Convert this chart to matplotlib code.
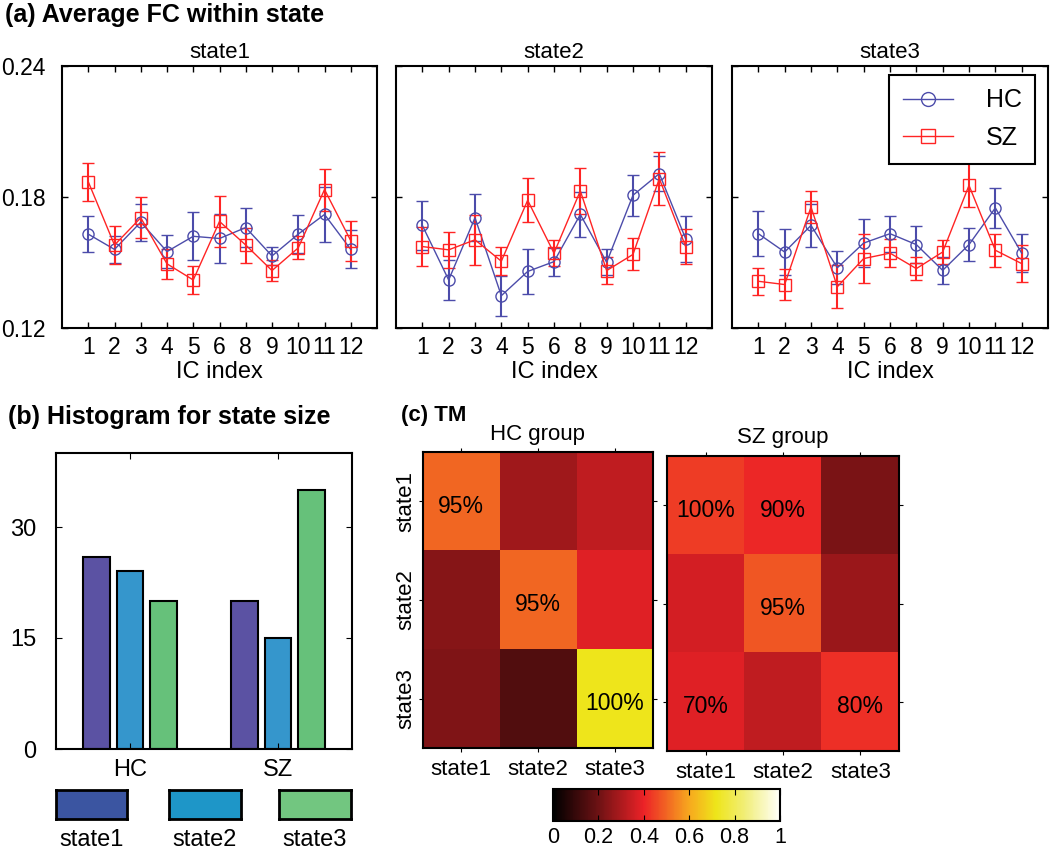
import matplotlib
matplotlib.use('Agg')
import matplotlib.pyplot as plt
import numpy as np
from matplotlib.colors import LinearSegmentedColormap
from matplotlib.lines import Line2D

plt.rcParams['font.family'] = ['Liberation Sans', 'DejaVu Sans']

# ---------------- data ----------------
ic_labels = ['1', '2', '3', '4', '5', '6', '8', '9', '10', '11', '12']
state_names = ['state1', 'state2', 'state3']

hc_state1 = [0.163, 0.156, 0.1685, 0.155, 0.162, 0.161, 0.166, 0.153, 0.163, 0.172, 0.156]
hc_state1_err = [0.0084, 0.006, 0.0085, 0.0077, 0.011, 0.011, 0.009, 0.004, 0.0087, 0.0125, 0.0087]
sz_state1 = [0.187, 0.158, 0.1705, 0.1494, 0.142, 0.1688, 0.158, 0.1463, 0.1567, 0.1834, 0.160]
sz_state1_err = [0.0088, 0.0087, 0.0095, 0.007, 0.0063, 0.0117, 0.008, 0.005, 0.0053, 0.0096, 0.0092]

hc_state2 = [0.167, 0.142, 0.1705, 0.1348, 0.1459, 0.1504, 0.172, 0.1501, 0.1808, 0.1907, 0.1609]
hc_state2_err = [0.0113, 0.009, 0.0107, 0.0092, 0.0101, 0.0064, 0.0105, 0.006, 0.0094, 0.008, 0.0105]
sz_state2 = [0.1573, 0.1558, 0.1604, 0.1506, 0.1785, 0.1543, 0.1828, 0.1463, 0.1537, 0.1884, 0.1573]
sz_state2_err = [0.0088, 0.0083, 0.0115, 0.0065, 0.010, 0.006, 0.0107, 0.006, 0.0073, 0.0122, 0.008]

hc_state3 = [0.1632, 0.1548, 0.167, 0.1476, 0.1589, 0.1632, 0.1582, 0.1464, 0.1582, 0.175, 0.1543]
hc_state3_err = [0.0102, 0.0105, 0.010, 0.0076, 0.0108, 0.0082, 0.0086, 0.0061, 0.0076, 0.0092, 0.0088]
sz_state3 = [0.1414, 0.1399, 0.1754, 0.1389, 0.1518, 0.1543, 0.1472, 0.1548, 0.1853, 0.1556, 0.1495]
sz_state3_err = [0.0063, 0.0073, 0.0075, 0.0098, 0.0112, 0.0065, 0.0053, 0.0057, 0.0101, 0.0075, 0.0085]

groups = ['HC', 'SZ']
count_state1 = [26, 20]
count_state2 = [24, 15]
count_state3 = [20, 35]

tm_hc = [[0.50, 0.28, 0.33],
         [0.24, 0.50, 0.38],
         [0.23, 0.15, 0.72]]
tm_sz = [[0.44, 0.41, 0.22],
         [0.36, 0.48, 0.27],
         [0.38, 0.33, 0.42]]
tm_hc_text = [(0, 0, '95%'), (1, 1, '95%'), (2, 2, '100%')]
tm_sz_text = [(0, 0, '100%'), (0, 1, '90%'), (1, 1, '95%'), (2, 0, '70%'), (2, 2, '80%')]
cbar_ticks = [0, 0.2, 0.4, 0.6, 0.8, 1]
cbar_ticklabels = ['0', '0.2', '0.4', '0.6', '0.8', '1']

# ---------------- layout helpers ----------------
W, H = 1050, 851
def rect(l, t, r, b):
    return [l / W, 1 - b / H, (r - l) / W, (b - t) / H]

fig = plt.figure(figsize=(10.5, 8.51), dpi=100)

blue = '#4c4caa'
red = '#ff2424'

# ---------------- panel (a) ----------------
fig.text(5 / W, 1 - 15 / H, '(a) Average FC within state', fontsize=18,
         fontweight='bold', va='center', ha='left')

a_rects = [(62, 66, 377, 328), (396, 66, 712, 328), (732, 66, 1048, 328)]
a_data = [(hc_state1, hc_state1_err, sz_state1, sz_state1_err),
          (hc_state2, hc_state2_err, sz_state2, sz_state2_err),
          (hc_state3, hc_state3_err, sz_state3, sz_state3_err)]
x = np.arange(1, len(ic_labels) + 1)
for i, (r, (hm, he, sm, se)) in enumerate(zip(a_rects, a_data)):
    ax = fig.add_axes(rect(*r))
    ax.errorbar(x, hm, yerr=he, color=blue, marker='o', mfc='none', ms=8,
                lw=1, elinewidth=1.5, capsize=4, mew=1)
    ax.errorbar(x, sm, yerr=se, color=red, marker='s', mfc='none', ms=8,
                lw=1, elinewidth=1.5, capsize=4, mew=1)
    ax.set_xlim(0, 12)
    ax.set_ylim(0.12, 0.24)
    ax.set_xticks(x)
    ax.set_xticklabels(ic_labels)
    ax.set_yticks([0.12, 0.18, 0.24])
    ax.tick_params(direction='in', top=True, right=True, length=4,
                   labelsize=16.5, width=1)
    ax.tick_params(axis='x', pad=6)
    ax.tick_params(axis='y', pad=12)
    if i > 0:
        ax.set_yticklabels([])
    ax.set_title(state_names[i], fontsize=16, pad=6)
    ax.set_xlabel('IC index', fontsize=17, labelpad=1)
    for s in ax.spines.values():
        s.set_linewidth(1.5)
    if i == 2:
        handles = [Line2D([], [], color=blue, marker='o', mfc='none', ms=10, lw=1),
                   Line2D([], [], color=red, marker='s', mfc='none', ms=10, lw=1)]
        leg = ax.legend(handles, ['HC', 'SZ'], loc='upper right',
                        bbox_to_anchor=(0.96, 0.967), borderaxespad=0,
                        fontsize=18, fancybox=False, edgecolor='black',
                        framealpha=1, handlelength=2.0, handletextpad=1.3,
                        borderpad=0.55, labelspacing=0.55)
        leg.get_frame().set_linewidth(1.5)

# ---------------- panel (b) ----------------
fig.text(8 / W, 1 - 417 / H, '(b) Histogram for state size', fontsize=18,
         fontweight='bold', va='center', ha='left')
axb = fig.add_axes(rect(56, 453, 352, 749))
bar_colors = ['#5b52a3', '#3596cc', '#66c17a']
legend_colors = ['#3b55a1', '#1e96c8', '#72c680']
counts = [count_state1, count_state2, count_state3]
gx = np.arange(1, len(groups) + 1)
offsets = [-0.225, 0.0, 0.225]
for c, off, col in zip(counts, offsets, bar_colors):
    axb.bar(gx + off, c, width=0.18, color=col, edgecolor='black', lw=1.5)
axb.set_xlim(0.5, 2.5)
axb.set_ylim(0, 40)
axb.set_yticks([0, 15, 30])
axb.set_xticks(gx)
axb.set_xticklabels(groups)
axb.tick_params(direction='in', top=True, right=True, length=4, labelsize=17)
axb.tick_params(axis='y', pad=14)
axb.tick_params(axis='x', pad=7)
for s in axb.spines.values():
    s.set_linewidth(1.5)

leg_rects = [(56, 790, 127, 819), (169, 790, 241, 819), (279, 790, 351, 819)]
for r, col, name in zip(leg_rects, legend_colors, state_names):
    lax = fig.add_axes(rect(*r))
    lax.set_facecolor(col)
    lax.set_xticks([])
    lax.set_yticks([])
    for s in lax.spines.values():
        s.set_linewidth(2)
    lax.set_xlabel(name, fontsize=17, labelpad=7)

# ---------------- panel (c) ----------------
fig.text(401 / W, 1 - 415 / H, '(c) TM', fontsize=16,
         fontweight='bold', va='center', ha='left')
cmap = LinearSegmentedColormap.from_list(
    'tm', [(0.0, '#000000'), (0.2, '#6e1214'), (0.4, '#ec2227'),
           (0.6, '#f7a81e'), (0.72, '#eee51a'), (0.85, '#f1ee7a'),
           (1.0, '#fffffa')])

c_rects = [(423, 452, 653, 748), (667, 456, 899, 751)]
c_data = [tm_hc, tm_sz]
c_text = [tm_hc_text, tm_sz_text]
c_titles = ['HC group', 'SZ group']
im = None
for j, (r, m, txt, ttl) in enumerate(zip(c_rects, c_data, c_text, c_titles)):
    ax = fig.add_axes(rect(*r))
    im = ax.imshow(np.array(m), cmap=cmap, vmin=0, vmax=1, aspect='auto',
                   interpolation='nearest')
    ax.set_xticks(range(3))
    ax.set_xticklabels(state_names, fontsize=16)
    ax.set_yticks(range(3))
    if j == 0:
        ax.set_yticklabels(state_names, rotation=90, va='center', fontsize=16)
    else:
        ax.set_yticklabels([])
    ax.tick_params(direction='out', top=True, right=True, length=3)
    ax.tick_params(axis='y', pad=2)
    ax.tick_params(axis='x', pad=5)
    ax.set_title(ttl, fontsize=16, pad=9)
    for s in ax.spines.values():
        s.set_linewidth(1.5)
    for (ri, ci, t) in txt:
        ax.text(ci, ri + 0.05, t, ha='center', va='center', fontsize=16.5,
                color='black')

cax = fig.add_axes(rect(553, 789, 780, 821))
cb = fig.colorbar(im, cax=cax, orientation='horizontal', ticks=cbar_ticks)
cb.ax.set_xticklabels(cbar_ticklabels, fontsize=15.5)
cb.ax.tick_params(direction='in', top=True, bottom=True, length=4, pad=4)
cb.outline.set_linewidth(1.5)

fig.savefig('out.png', dpi=100)
